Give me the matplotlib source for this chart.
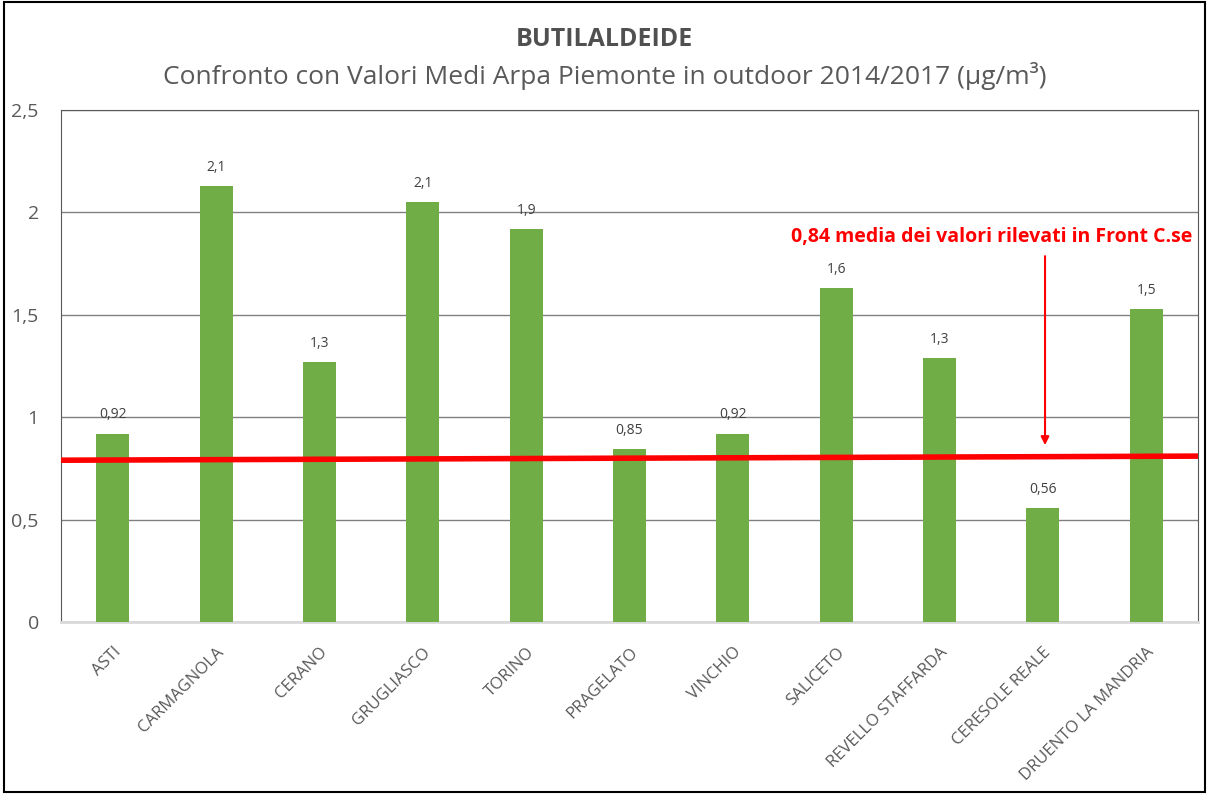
import matplotlib.pyplot as plt
from matplotlib.patches import Rectangle

categories = ['ASTI', 'CARMAGNOLA', 'CERANO', 'GRUGLIASCO', 'TORINO', 'PRAGELATO',
              'VINCHIO', 'SALICETO', 'REVELLO STAFFARDA', 'CERESOLE REALE',
              'DRUENTO LA MANDRIA']
values = [0.92, 2.13, 1.27, 2.05, 1.92, 0.845, 0.92, 1.63, 1.29, 0.557, 1.53]
labels = ['0,92', '2,1', '1,3', '2,1', '1,9', '0,85', '0,92', '1,6', '1,3', '0,56', '1,5']
ref_line = [0.79, 0.81]  # red line, slightly sloped (left, right)
yticks = [0, 0.5, 1, 1.5, 2, 2.5]
ytick_labels = ['0', '0,5', '1', '1,5', '2', '2,5']

plt.rcParams['font.family'] = ['Open Sans', 'DejaVu Sans']


def main():
    fig = plt.figure(figsize=(12.09, 7.94), dpi=100)
    ax = fig.add_axes([61 / 1209, 1 - 622 / 794, (1198 - 61) / 1209, (622 - 110) / 794])

    x = range(len(categories))
    ax.bar(x, values, width=0.32, color='#70AD47', zorder=3)
    for i, (v, lab) in enumerate(zip(values, labels)):
        ax.annotate(lab, (i, v), xytext=(0, 8), textcoords='offset points',
                    ha='center', va='bottom', fontsize=10, color='#404040')

    ax.plot([-0.5, len(categories) - 0.5], ref_line, color='#FF0000', lw=4, zorder=4,
            solid_capstyle='butt')

    ax.set_xlim(-0.5, len(categories) - 0.5)
    ax.set_ylim(0, 2.5)
    ax.set_yticks(yticks)
    ax.set_yticklabels(ytick_labels, fontsize=14, color='#595959')
    ax.set_xticks(list(x))
    ax.set_xticklabels(categories, rotation=45, ha='right', rotation_mode='anchor',
                       fontsize=12, color='#595959')
    ax.tick_params(axis='y', length=0, pad=16)
    ax.tick_params(axis='x', length=0, pad=16)
    ax.grid(axis='y', color='#808080', lw=1, zorder=0)
    for side in ['left', 'top', 'right']:
        ax.spines[side].set_color('#595959')
    ax.spines['bottom'].set_color('#D9D9D9')
    ax.spines['bottom'].set_linewidth(2)

    ax.annotate('', xy=(9.02, 0.85), xytext=(9.02, 1.8),
                arrowprops=dict(arrowstyle='-|>', color='#FF0000', lw=1.5,
                                mutation_scale=12))
    fig.text(1192 / 1209, 1 - 237 / 794, '0,84 media dei valori rilevati in Front C.se',
             ha='right', va='center', fontsize=14, fontweight='bold', color='#FF0000')

    fig.text(0.5, 1 - 40 / 794, 'BUTILALDEIDE', ha='center', va='center',
             fontsize=18, fontweight='bold', color='#505050')
    fig.text(0.5, 1 - 76 / 794,
             'Confronto con Valori Medi Arpa Piemonte in outdoor 2014/2017 (µg/m³)',
             ha='center', va='center', fontsize=19, color='#595959')

    fig.patches.append(Rectangle((4 / 1209, 2 / 794), 1 - 8 / 1209, 1 - 4 / 794,
                                 transform=fig.transFigure, fill=False,
                                 edgecolor='black', lw=1.5))

    fig.savefig('out.png', dpi=100)
    plt.close(fig)


if __name__ == '__main__':
    main()
